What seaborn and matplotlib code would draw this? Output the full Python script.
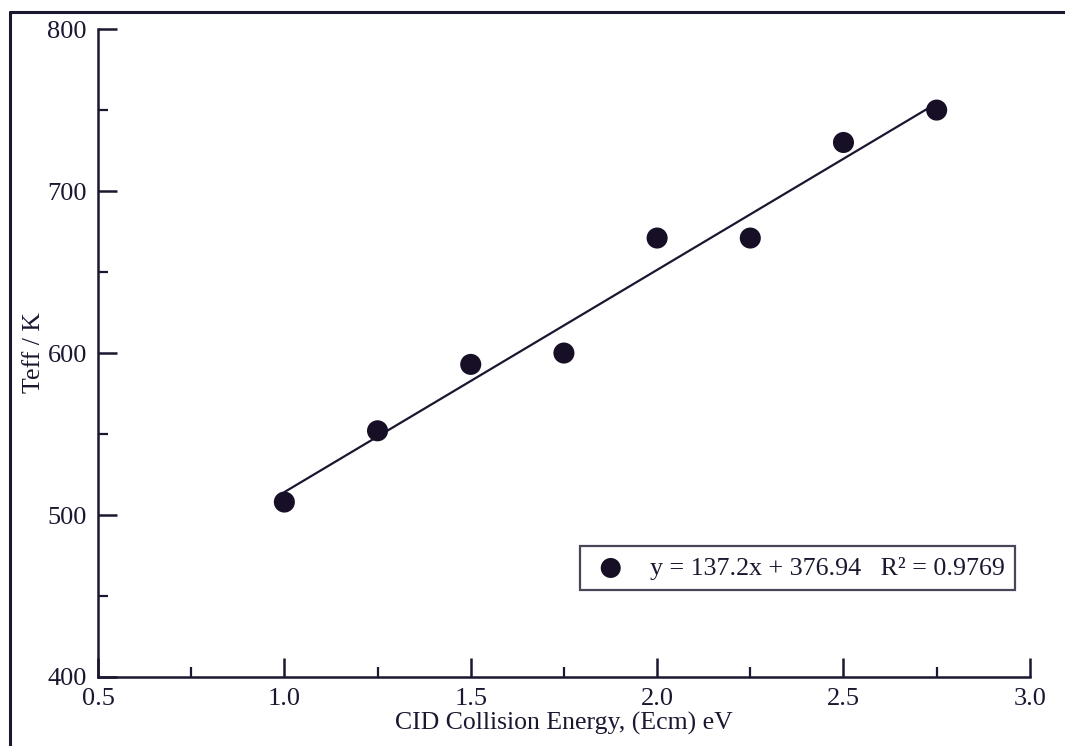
import matplotlib
matplotlib.use("Agg")
import matplotlib.pyplot as plt
from matplotlib.lines import Line2D
from matplotlib.ticker import MultipleLocator
import seaborn as sns
import pandas as pd

# Collision energy (eV) and effective temperature (K)
energy = [1.0, 1.25, 1.5, 1.75, 2.0, 2.25, 2.5, 2.75]
teff = [508, 552, 593, 600, 671, 671, 730, 750]

# Linear fit reported in the legend
slope = 137.2
intercept = 376.94
r_squared = 0.9769

x_ticks = [0.5, 1.0, 1.5, 2.0, 2.5, 3.0]
y_ticks = [400, 500, 600, 700, 800]

ink = "#1c1630"

sns.set_theme(style="ticks")
plt.rcParams["font.family"] = ["Liberation Serif", "DejaVu Serif"]
plt.rcParams["text.color"] = ink
plt.rcParams["axes.labelcolor"] = ink
plt.rcParams["xtick.color"] = ink
plt.rcParams["ytick.color"] = ink

df = pd.DataFrame({"energy": energy, "teff": teff})
fit_x = [min(energy), max(energy)]
fit_df = pd.DataFrame({"energy": fit_x,
                       "teff": [slope * v + intercept for v in fit_x]})

fig = plt.figure(figsize=(10.65, 7.46), dpi=100)
ax = fig.add_axes([0.092, 0.0925, 0.875, 0.8685])

sns.lineplot(data=fit_df, x="energy", y="teff", ax=ax, color=ink,
             linewidth=1.6, legend=False)
label = f"y = {slope}x + {intercept}   R² = {r_squared}"
sns.scatterplot(data=df, x="energy", y="teff", ax=ax, color="#170f26",
                s=230, edgecolor="none", label=label, zorder=3)

ax.set_xlim(0.5, 3.0)
ax.set_ylim(400, 800)
ax.set_xticks(x_ticks)
ax.set_yticks(y_ticks)
ax.set_xticklabels([f"{v:.1f}" for v in x_ticks])
ax.set_yticklabels([str(v) for v in y_ticks])
ax.xaxis.set_minor_locator(MultipleLocator(0.25))
ax.yaxis.set_minor_locator(MultipleLocator(50))
ax.tick_params(axis="both", which="major", direction="in", length=14,
               width=1.8, labelsize=19, pad=8)
ax.tick_params(axis="both", which="minor", direction="in", length=7,
               width=1.6)

for side in ("top", "right"):
    ax.spines[side].set_visible(False)
for side in ("left", "bottom"):
    ax.spines[side].set_linewidth(1.8)
    ax.spines[side].set_color(ink)

ax.set_xlabel("CID Collision Energy, (Ecm) eV", fontsize=18.5, labelpad=1)
ax.set_ylabel("Teff / K", fontsize=18.5, labelpad=2)

leg = ax.legend(loc="lower right", bbox_to_anchor=(0.984, 0.134),
                borderaxespad=0, fontsize=18.7, frameon=True, fancybox=False,
                handlelength=1.6, handletextpad=0.7, borderpad=0.4,
                markerscale=0.95)
leg.get_frame().set_edgecolor(ink)
leg.get_frame().set_linewidth(1.6)

# Outer page frame
fig.add_artist(Line2D([0.0095, 0.0095], [0.0, 0.984], color=ink, lw=2.2,
                      transform=fig.transFigure))
fig.add_artist(Line2D([0.0095, 1.0], [0.984, 0.984], color=ink, lw=2.2,
                      transform=fig.transFigure))

fig.savefig("out.png", dpi=100, facecolor="white")
